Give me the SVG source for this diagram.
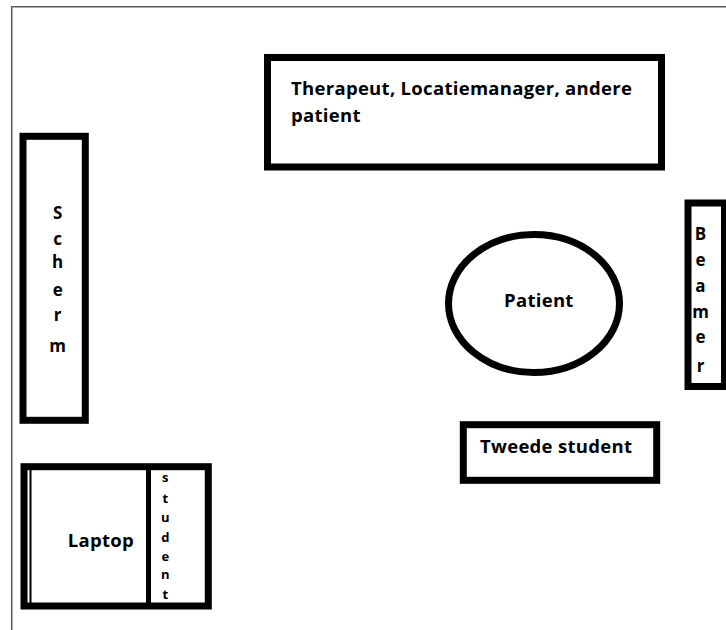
<svg xmlns="http://www.w3.org/2000/svg" width="726" height="630" viewBox="0 0 726 630">
  <style>
    .box { fill: none; stroke: #000; stroke-width: 7; }
    .frame { fill: none; stroke: #5a5a5a; stroke-width: 1.5; }
    .lbl { font-family: "Open Sans", "Noto Sans", "Liberation Sans", sans-serif; font-weight: bold; fill: #000; }
    .big { font-size: 18.5px; letter-spacing: 0.3px; }
    .col { font-size: 17px; text-anchor: middle; }
    .small { font-size: 13px; text-anchor: middle; }
  </style>
  <rect width="726" height="630" fill="#fff"/>

  <!-- room outline -->
  <path class="frame" d="M11.7 630 V6.7 H726"/>

  <g id="staff">
    <rect class="box" x="267.5" y="57.5" width="394" height="109.5"/>
    <text class="lbl big" x="291" y="95">Therapeut, Locatiemanager, andere</text>
    <text class="lbl big" x="291" y="122">patient</text>
  </g>

  <g id="scherm">
    <rect class="box" x="23" y="136.3" width="62.3" height="284"/>
    <text class="lbl col" x="57.7" y="219">S</text>
    <text class="lbl col" x="57.7" y="245">c</text>
    <text class="lbl col" x="57.7" y="268">h</text>
    <text class="lbl col" x="57.7" y="296">e</text>
    <text class="lbl col" x="57.7" y="321">r</text>
    <text class="lbl col" x="57.7" y="352">m</text>
  </g>

  <g id="beamer">
    <rect class="box" x="688" y="203" width="36.5" height="183.5"/>
    <text class="lbl col" x="700.5" y="240">B</text>
    <text class="lbl col" x="700.5" y="266">e</text>
    <text class="lbl col" x="700.5" y="292">a</text>
    <text class="lbl col" x="700.5" y="318">m</text>
    <text class="lbl col" x="700.5" y="343">e</text>
    <text class="lbl col" x="700.5" y="372">r</text>
  </g>

  <g id="patient">
    <ellipse class="box" cx="534" cy="303.5" rx="85.5" ry="69"/>
    <text class="lbl big" x="504" y="306.7">Patient</text>
  </g>

  <g id="tweede-student">
    <rect class="box" x="463.3" y="424.7" width="193.4" height="55.6"/>
    <text class="lbl big" x="480" y="453.3">Tweede student</text>
  </g>

  <g id="laptop">
    <rect class="box" x="24" y="466.7" width="184.3" height="139.3"/>
    <rect x="29.5" y="470" width="2" height="133" fill="#000"/>
    <rect x="146" y="470" width="5" height="133" fill="#000"/>
    <text class="lbl big" x="67.7" y="546.7">Laptop</text>
  </g>

  <g id="student">
    <text class="lbl small" x="165.3" y="482">s</text>
    <text class="lbl small" x="165.3" y="503">t</text>
    <text class="lbl small" x="165.3" y="522">u</text>
    <text class="lbl small" x="165.3" y="542">d</text>
    <text class="lbl small" x="165.3" y="561">e</text>
    <text class="lbl small" x="165.3" y="579">n</text>
    <text class="lbl small" x="165.3" y="599">t</text>
  </g>

  <g id="connectors"/>
</svg>
